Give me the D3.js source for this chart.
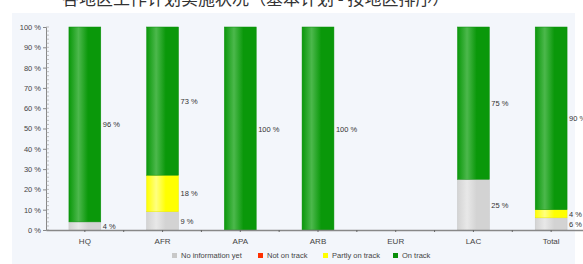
<!DOCTYPE html>
<html>
<head>
<meta charset="utf-8">
<script src="https://cdn.jsdelivr.net/npm/d3@7"></script>
<style>
  body { margin: 0; background: #fff; }
  svg { display: block; font-family: Arial, "Liberation Sans", sans-serif; }
</style>
</head>
<body>
<svg id="chart" width="583" height="264"></svg>
<script>
const categories = ['HQ', 'AFR', 'APA', 'ARB', 'EUR', 'LAC', 'Total'];
const series = ['No information yet', 'Not on track', 'Partly on track', 'On track'];
const noInfo  = [4, 9, 0, 0, 0, 25, 6];
const notOn   = [0, 0, 0, 0, 0, 0, 0];
const partly  = [0, 18, 0, 0, 0, 0, 4];
const onTrack = [96, 73, 100, 100, 0, 75, 90];
const yTicks = [0, 10, 20, 30, 40, 50, 60, 70, 80, 90, 100];
const title = '各地区工作计划实施状况（基本计划 - 按地区排序）';

const colors = ['#d3d3d3', '#ff3000', '#ffff00', '#0a980a'];
const light  = ['#e8e8e8', '#ff7a5a', '#ffff80', '#4cb84c'];

const svg = d3.select('#chart');

// background panel
svg.append('rect').attr('x', 12).attr('y', 13).attr('width', 563).attr('height', 251)
    .attr('fill', '#f3f6fb');

// title (cut off at top)
svg.append('text').attr('x', 62).attr('y', 5)
    .attr('font-family', '"Noto Sans CJK SC", sans-serif')
    .attr('font-size', 17).attr('fill', '#333')
    .text(title);

// gradients
const defs = svg.append('defs');
colors.forEach((c, i) => {
    const gr = defs.append('linearGradient').attr('id', 'g' + i)
        .attr('x1', 0).attr('x2', 1).attr('y1', 0).attr('y2', 0);
    gr.append('stop').attr('offset', '0%').attr('stop-color', c);
    gr.append('stop').attr('offset', '30%').attr('stop-color', light[i]);
    gr.append('stop').attr('offset', '60%').attr('stop-color', c);
    gr.append('stop').attr('offset', '100%').attr('stop-color', c);
});

const x = d3.scaleBand().domain(categories).range([46, 590]).paddingInner(0.59).paddingOuter(0.295);
const y = d3.scaleLinear().domain([0, 100]).range([230, 27]);

const rows = categories.map((c, i) => ({
    cat: c, vals: [noInfo[i], notOn[i], partly[i], onTrack[i]]
}));
const stack = [];
rows.forEach(r => {
    let acc = 0;
    r.vals.forEach((v, s) => {
        if (v > 0) stack.push({ cat: r.cat, s, y0: acc, y1: acc + v, v });
        acc += v;
    });
});

// bars
svg.append('g').selectAll('rect').data(stack).enter().append('rect')
    .attr('x', d => x(d.cat))
    .attr('width', x.bandwidth())
    .attr('y', d => y(d.y1))
    .attr('height', d => y(d.y0) - y(d.y1))
    .attr('fill', d => `url(#g${d.s})`)
    .attr('stroke', d => d3.color(colors[d.s]).darker(0.2))
    .attr('stroke-width', 0.5);

// value labels
svg.append('g').selectAll('text').data(stack).enter().append('text')
    .attr('x', d => x(d.cat) + x.bandwidth() + 2)
    .attr('y', d => y((d.y0 + d.y1) / 2) + 3)
    .attr('font-size', 7.5).attr('fill', '#333')
    .text(d => d.v + ' %');

// y axis
const yAxis = svg.append('g').attr('transform', 'translate(46,0)')
    .call(d3.axisLeft(y).tickValues(yTicks).tickSize(3).tickFormat(d => d + ' %'));
yAxis.select('.domain').attr('stroke', '#888');
yAxis.selectAll('.tick line').attr('stroke', '#888');
yAxis.selectAll('text').attr('font-size', 7.5).attr('fill', '#444').attr('x', -5);
// minor ticks
svg.append('g').selectAll('line').data(d3.range(0, 101, 2)).enter().append('line')
    .attr('x1', 46).attr('x2', 49)
    .attr('y1', d => y(d)).attr('y2', d => y(d))
    .attr('stroke', '#999').attr('stroke-width', 0.6);

// x axis
const xAxis = svg.append('g').attr('transform', 'translate(0,230)')
    .call(d3.axisBottom(x).tickSize(2).tickSizeOuter(0));
xAxis.select('.domain').attr('stroke', '#888').attr('stroke-width', 1.5);
xAxis.selectAll('.tick line').attr('stroke', '#666');
xAxis.selectAll('text').attr('font-size', 8).attr('fill', '#444').attr('dy', '1.1em');
// boundary ticks
svg.append('g').selectAll('line').data(categories.slice(1)).enter().append('line')
    .attr('x1', d => x(d) - x.step() * 0.295).attr('x2', d => x(d) - x.step() * 0.295)
    .attr('y1', 230).attr('y2', 232)
    .attr('stroke', '#666');

// legend
const legX = [172, 258, 323, 393];
const leg = svg.append('g').selectAll('g').data(series).enter().append('g')
    .attr('transform', (d, i) => `translate(${legX[i]},258)`);
leg.append('rect').attr('x', 0).attr('y', -5).attr('width', 5).attr('height', 5)
    .attr('fill', (d, i) => i === 0 ? '#c8c8c8' : i === 3 ? '#0a8f0a' : colors[i]);
leg.append('text').attr('x', 9).attr('y', 0).attr('font-size', 7.5).attr('fill', '#444')
    .text(d => d);
</script>
</body>
</html>
